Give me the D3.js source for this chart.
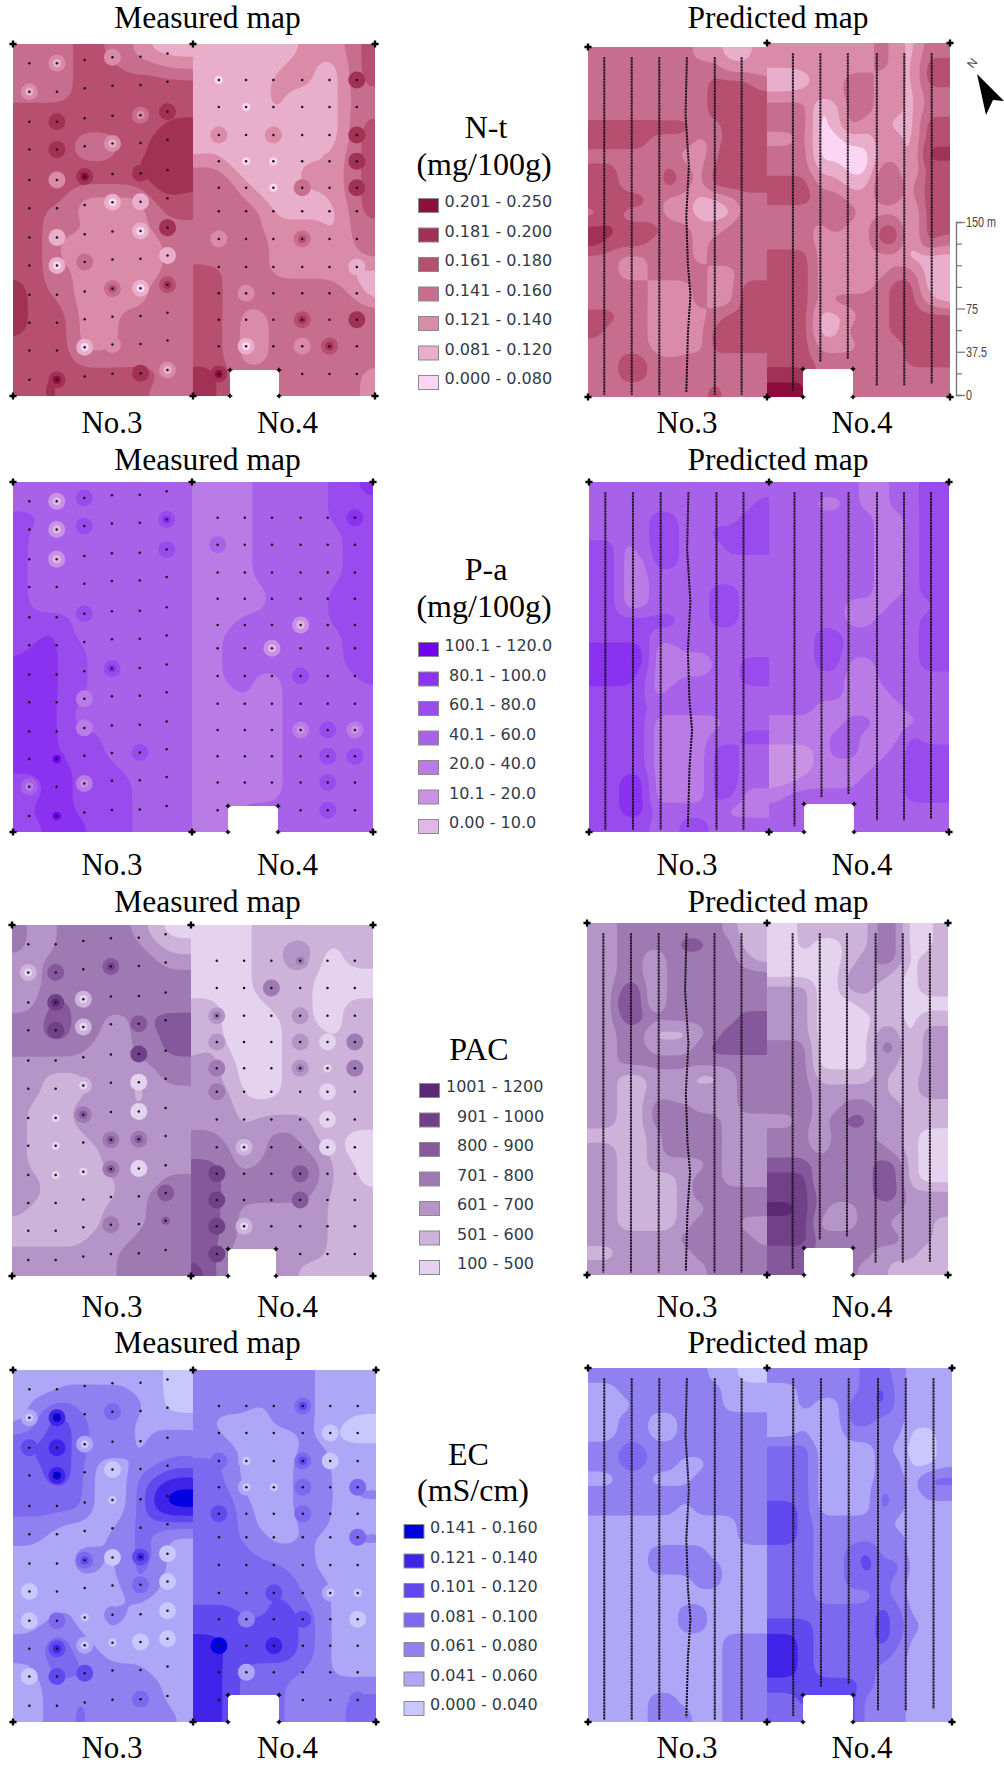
<!DOCTYPE html>
<html>
<head>
<meta charset="utf-8">
<style>
  html, body { margin: 0; padding: 0; background: #fff; }
  svg { display: block; }
</style>
</head>
<body>
<script src="https://cdn.jsdelivr.net/npm/d3@7/dist/d3.min.js"></script>
<script>
// class index read at each grid cell: 0 = lowest legend class, 6 = highest
var ntMeasured3 = ["333344332111","333344433322","333344444444","333344444444","444444444444","444444444455","444433344555","444433344555","444444445565","443444444565","444422222444","443322222344","443332222333","443222222233","443222222233","443322222233","543322222333","544322222333","544422233333","544422233333","444422233333","444433333333","445444444433","445444444333"];
var ntMeasured4 = ["111111122234","111111221134","111112221134","111112111133","111112111133","111111111134","121112111134","111111111234","331111122234","343111122234","343311111234","333331111134","333422222133","323432232133","333332222123","443332222211","443233333321","443333333331","443223343344","443223333333","443223333333","443223333333","553333333332","553333333332"];
var ntPredicted3 = ["333333322112","333333333222","333333334443","333333334444","333333334444","444444433444","444433323444","333333223544","443334324444","443334324444","454432211233","343332211133","554443322343","544433323333","332233323333","332233332233","333322232244","333322232244","443321223444","433322224444","333321224444","334433333333","334433333333","333333334333"];
var ntPredicted4 = ["222222232133","222222232144","001223322144","222223322133","333013322133","333013221144","223001122144","333000022155","333110033144","444221143244","444332233244","333343222144","333232244144","333222244143","444222222111","444222223311","444222234411","444233334421","444112334444","444113334444","444222333434","444333333444","555333333333","666333333333"];

var paMeasured3 = ["333333333333","333333333333","443333333333","433333333333","433333333333","433333333333","433333333333","433333333333","433333333333","444433333333","445433333333","455443333333","555443333333","555443333333","555443333333","555433333333","555433333333","555444333333","555444333333","555544433333","445544443333","445544443333","455544443333","445554443333"];
var paMeasured4 = ["222233333445","222233333444","222233333444","222233333344","222233333344","222233333344","222233333344","222223333444","222223333444","222333333444","223333333344","223333333344","223333333344","223322333334","222322333333","222222333333","222222333333","222222333333","222222333333","222222333333","222222333333","222222333333","222333333333","222333333333"];
var paPredicted3 = ["333333333333","333333233334","333344333344","333344334444","442344333444","442244333333","442233333333","442233334433","442233334433","444444334433","444433333333","555522333333","555522113344","555422333344","444423333333","444433333333","444422222333","444422223344","444422224433","444422224433","445522224433","445522224422","445533333222","444433443333"];
var paPredicted4 = ["333333223344","333223223344","333333322344","333333322344","333333322344","333333322344","333233322344","333333322344","333332223334","333332233344","333443333344","333443333344","333442233344","333332133333","333332223333","333222222333","222223322233","222233222433","111233223444","111222233444","112222333444","233333333444","333333333333","333333333333"];

var pacMeasured3 = ["322333332100","322333333211","223333333322","223333333333","223333333333","224433333333","334433223444","334433223344","333332223344","222222222333","221112221233","221112221222","211122221222","211122222222","211112222222","211111222222","211111222222","221111122233","221111122333","211111222333","111111222333","111112223333","222222233333","222222233333"];
var pacMeasured4 = ["000011111111","000011221011","000011230011","000011110000","000011110000","110001110011","110000110011","110000111011","120000111111","221000111111","221000111111","222000111111","222111111111","222122221111","332223321100","333123332100","443233333110","443333333110","443333332111","443222222111","443222222111","443222222111","442222222111","542222211111"];
var pacPredicted3 = ["223333333211","223333443311","223313333321","223313333333","224413333333","225413333333","224433333344","223311123444","223322234444","223333333333","221122211233","221122122233","221133322233","221133333222","111123333222","221123333222","221122223222","221111233222","221111233333","221111223333","221111233322","222222332332","112222233343","222222223333"];
var pacPredicted4 = ["001111133001","001001133001","000001233011","000002221011","222002211011","222000111000","222000011011","222000022022","333000033022","333000022022","333111121122","333222221122","333223322111","223234422111","333133322100","333233332100","444333344100","555233344100","555333344222","665322333222","555222332221","555333333221","444333322211","444333221111"];

var ecMeasured3 = ["111111111100","111222221100","123322222100","124432221111","334432221222","344432221222","334431112233","334431113455","333331113566","333331113566","222111123333","221111223211","111122123311","111122123211","111111123211","111111112111","111211221111","112211211111","223321111111","223322111111","113332222111","112222222211","112232222211","112232222221"];
var ecMeasured4 = ["222222221111","222222221111","222212221111","211112221100","221111121000","222111122111","332111132111","332111132111","333111132122","333211132111","333211122111","333221121122","333322221111","333333221111","333333322111","333334322111","444334432111","444444432111","554444432111","554444432111","554333322111","554333222222","554333222233","554333222233"];
var ecPredicted3 = ["222222221100","112222222111","111222222111","112211222222","112211222222","223322222222","223322112222","112211122222","222222222222","222222122222","111111111122","111111111122","111122221111","111122222111","111111122111","111111111111","111111221111","111111221111","111111111222","111111111222","111111111222","111111111222","111122111222","111122211222"];
var ecPredicted4 = ["222222332111","112222342111","112113342111","111113322111","112012222001","333111121001","333111122001","333111122133","333111132122","443111132111","443222221111","443222222111","333223422111","333223433111","333223332111","333222232111","333333343111","444333343211","554333343111","554333332111","554333322111","444444322111","334444222111","333444222111"];

// spots around single samples: sample column, sample row, then class of each nested ring
var ntSpots = [[1,0,2,1],[3,0,2],[0,1,2,1],[1,2,5],[4,2,3,2],[5,2,5],[1,3,5],[3,3,2,1],[2,4,5,6],[1,4,2],[4,4,5],[3,5,1,0],[4,5,1],[4,6,1,0],[5,6,5],[1,6,1],[2,7,3],[1,7,1,0],[5,7,1],[3,8,3,4],[4,8,1,0],[5,8,4,5],[2,10,1,0],[3,10,2],[1,11,5,6],[4,11,5],[5,11,2,1],[6,0,1,0],[7,1,1,0],[6,2,2],[8,2,2],[7,3,1,0],[8,3,1,0],[8,4,1,0],[9,4,3],[11,0,5],[11,2,5],[11,3,5],[11,4,5],[10,3,2],[6,6,2],[9,6,3,4],[7,8,2],[7,10,1,0],[9,9,4,5],[11,9,5],[10,10,4,5],[9,10,2],[6,11,5,6],[11,7,1]];
var paSpots = [[1,0,1,0],[2,0,4],[1,1,1,0],[2,1,4],[5,1,4,5],[1,2,1,0],[5,2,4],[2,4,4],[3,6,4,5],[2,7,2],[2,8,2],[4,9,4],[1,9,5,6],[0,10,3,2],[2,10,2,1],[1,11,5,6],[6,1,3],[11,0,5],[9,4,1,0],[8,5,1,0],[9,6,4],[9,8,2,1],[10,8,4],[11,8,2,1],[10,9,4],[11,9,4],[10,10,4],[10,11,4]];
var pacSpots = [[0,1,1,0],[1,1,4],[3,1,4,5],[2,2,1,0],[1,2,5,6],[1,3,5],[2,3,1,0],[4,3,4],[4,4,5],[4,5,0],[2,5,1,0],[4,6,0],[1,6,1,0],[2,6,3,4],[1,7,1,0],[3,7,3,4],[4,7,3,4],[3,8,3,4],[1,8,1,0],[2,8,1,0],[4,8,0],[5,9,4],[3,10,3],[5,10,3,4],[9,0,2,3],[8,1,3],[6,2,2,3],[6,3,2],[9,2,2],[9,3,2],[9,4,2,3],[10,3,0],[10,4,1,0],[11,3,3],[11,4,3],[10,5,0],[10,6,0],[6,4,3],[6,5,3],[6,6,2],[7,7,1,0],[6,8,5],[6,9,5],[6,10,5],[6,11,5],[9,8,4],[9,9,4],[7,10,1,0],[10,7,0]];
var ecSpots = [[0,1,1,0],[1,1,5,6],[1,2,5],[1,3,5,6],[0,2,4],[2,2,1,0],[3,1,3],[3,3,0],[3,4,1,0],[2,6,3,4],[3,6,0],[4,6,4,5],[4,7,3],[3,8,2],[1,8,3],[1,9,4,5],[1,10,4],[2,10,4],[4,11,3],[0,7,0],[5,7,0],[5,6,0],[0,8,0],[5,8,0],[2,8,1,0],[5,9,0],[4,9,0],[3,9,1,0],[2,9,1,0],[0,10,0],[9,0,3,4],[10,1,0],[11,1,0],[10,2,0],[7,2,1,0],[6,2,3],[9,2,3,4],[9,3,3],[9,4,3],[7,3,1,0],[8,3,1,0],[6,4,4],[11,3,3],[11,5,3],[8,7,4],[9,8,4],[8,9,5],[6,9,6],[7,8,2],[7,10,1],[11,8,0],[11,11,3],[10,7,1,0],[11,7,1,0]];

// sample grid and GPS tracks, in grid cells (12 per field across, 24 down)
var sampleX = [1.09, 2.93, 4.78, 6.63, 8.5, 10.3, 13.7, 15.5, 17.3, 19.2, 21, 22.8];
var sampleY3 = [1.32, 3.25, 5.3, 7.2, 9.27, 11.2, 13.2, 15.1, 17.1, 19, 20.9, 22.9];
var sampleTilt3 = [0, 0, -0.23, -0.41, -0.45, -0.68];
var sampleY4 = [2.45, 4.3, 6.2, 8, 9.8, 11.4, 13.3, 15.2, 17, 18.8, 20.6, 22.5];
var trackEnd = [23.85, 23.85, 23.85, 23.85, 23.85, 23.85, 23.6, 21.6, 21.4, 23.2, 23.2, 23.1];
var wobbleY = [0.7, 4.6, 8.2, 11.6, 15, 17, 19.6, 23.7];
var wobbleX = [0, -0.09, 0.13, -0.04, 0.07, 0.24, 0.07, -0.04];

var ntColors = ["#fbd5f3","#e8aeca","#d98ba8","#c76d8d","#b7506f","#a13055","#8e0f3c"];
var paColors = ["#dfb8e8","#c992e4","#b97be6","#a862ea","#9a4ced","#8a33f0","#7000ee"];
var pacColors = ["#e4d2ee","#cdb2da","#b595c8","#9f7ab2","#85599b","#6f4088","#5c2a75"];
var ecColors = ["#c8c8ff","#aea6f6","#9080f0","#7d68f0","#6048ee","#3f24e8","#0000e0"];

var ntLabels = ["0.201 - 0.250","0.181 - 0.200","0.161 - 0.180","0.141 - 0.160","0.121 - 0.140","0.081 - 0.120","0.000 - 0.080"];
var paLabels = ["100.1 - 120.0","80.1 - 100.0","60.1 - 80.0","40.1 - 60.0","20.0 - 40.0","10.1 - 20.0","0.00 - 10.0"];
var pacLabels = ["1001 - 1200","901 - 1000","800 - 900","701 - 800","601 - 700","501 - 600","100 - 500"];
var ecLabels = ["0.141 - 0.160","0.121 - 0.140","0.101 - 0.120","0.081 - 0.100","0.061 - 0.080","0.041 - 0.060","0.000 - 0.040"];

var scaleTicks = [0, 18.75, 37.5, 56.25, 75, 93.75, 112.5, 131.25, 150];
var scaleLabels = {0: "0", 37.5: "37.5", 75: "75", 150: "150 m"};

var w = 1004, h = 1765;
var k = 8; // cells are resampled by this before the contours

var svg = d3.select("body").append("svg").attr("width", w).attr("height", h);

var soft = svg.append("defs").append("filter").attr("id", "soft");
soft.append("feGaussianBlur").attr("stdDeviation", 0.55);

// one contour map for one field
function drawField(g, rows, colors, x0, x1, y0, y1, round) {
    var cw = rows[0].length * k, ch = rows.length * k;
    var values = new Float64Array(cw * ch);
    for (var j = 0; j < ch; j++) {
        for (var i = 0; i < cw; i++) {
            values[j * cw + i] = +rows[Math.floor(j / k)][Math.floor(i / k)];
        }
    }
    d3.blur2({data: values, width: cw, height: ch}, k * round);

    var xs = d3.scaleLinear().domain([0, cw]).range([x0, x1]);
    var ys = d3.scaleLinear().domain([0, ch]).range([y0, y1]);
    var path = d3.geoPath(d3.geoTransform({
        point: function (x, y) { this.stream.point(xs(x), ys(y)); }
    }));

    g.append("rect").attr("x", x0).attr("y", y0)
        .attr("width", x1 - x0).attr("height", y1 - y0)
        .attr("fill", colors[0]);

    var contours = d3.contours().size([cw, ch]).thresholds([0.5, 1.5, 2.5, 3.5, 4.5, 5.5])(values);
    g.selectAll(null)
        .data(contours)
        .enter()
        .append("path")
        .attr("d", path)
        .attr("fill", function (d) { return colors[Math.ceil(d.value)]; });
}

function drawPanel(p, set) {
    var left = p.g.append("g").attr("filter", "url(#soft)");
    var round = p.measured ? 0.58 : 0.4;
    drawField(left, set.rows3, set.colors, p.x0, p.xm, p.top3, p.y1, round);
    drawField(left, set.rows4, set.colors, p.xm, p.x1, p.top4, p.y1, round);

    var x3 = d3.scaleLinear().domain([0, 12]).range([p.x0, p.xm]);
    var x4 = d3.scaleLinear().domain([12, 24]).range([p.xm, p.x1]);
    var y3 = d3.scaleLinear().domain([0, 24]).range([p.top3, p.y1]);
    var y4 = d3.scaleLinear().domain([0, 24]).range([p.top4, p.y1]);
    var sx = function (col) { return col < 12 ? x3(col) : x4(col); };

    if (p.measured) {
        var samples = [];
        sampleX.forEach(function (cx, c) {
            var ysrc = c < 6 ? sampleY3 : sampleY4;
            ysrc.forEach(function (ry, r) {
                samples.push({c: c, r: r, x: sx(cx), y: c < 6 ? y3(ry + sampleTilt3[c]) : y4(ry)});
            });
        });
        var at = function (c, r) { return samples.find(function (s) { return s.c === c && s.r === r; }); };

        set.spots.forEach(function (s) {
            var pos = at(s[0], s[1]);
            var ringSet = s.slice(2);
            left.selectAll(null)
                .data(ringSet)
                .enter()
                .append("circle")
                .attr("cx", pos.x)
                .attr("cy", pos.y)
                .attr("r", function (d, i) { return 8.5 * Math.pow(0.48, i); })
                .attr("fill", function (d) { return set.colors[d]; });
        });

        p.g.selectAll(null)
            .data(samples)
            .enter()
            .append("circle")
            .attr("cx", function (d) { return d.x; })
            .attr("cy", function (d) { return d.y; })
            .attr("r", 1.25)
            .attr("fill", "#1a1018");
    } else {
        var line = d3.line().x(function (d) { return d[0]; }).y(function (d) { return d[1]; });
        sampleX.forEach(function (cx, c) {
            var yy = c < 6 ? y3 : y4;
            var pts;
            if (c === 3) {
                pts = wobbleY.map(function (wy, i) { return [sx(cx + wobbleX[i]), yy(wy)]; });
            } else {
                pts = [[sx(cx), yy(0.7)], [sx(cx), yy(trackEnd[c])]];
            }
            p.g.append("path")
                .attr("d", line(pts))
                .attr("fill", "none")
                .attr("stroke", "#1c1020")
                .attr("stroke-width", 2)
                .attr("stroke-dasharray", "2.2 0.8");
        });
    }

    // the cut-out in field No.4
    p.g.append("rect")
        .attr("x", p.nx0).attr("y", p.ny)
        .attr("width", p.nx1 - p.nx0).attr("height", p.y1 - p.ny + 2)
        .attr("fill", "#fff");

    var cross = d3.symbol().type(d3.symbolCross);
    var big = [[p.x0, p.top3], [p.xm, p.top4], [p.x1, p.top4], [p.x0, p.y1], [p.xm, p.y1], [p.x1, p.y1]];
    var small = [[p.nx0, p.ny], [p.nx1, p.ny], [p.nx0, p.y1], [p.nx1, p.y1]];
    p.g.selectAll(null).data(big).enter().append("path")
        .attr("d", cross.size(28)())
        .attr("transform", function (d) { return "translate(" + d + ")"; })
        .attr("fill", "#000");
    p.g.selectAll(null).data(small).enter().append("path")
        .attr("d", cross.size(12)())
        .attr("transform", function (d) { return "translate(" + d + ")"; })
        .attr("fill", "#000");

    // titles and field names
    var serif = "'Liberation Serif', 'Times New Roman', serif";
    p.g.append("text").text(p.measured ? "Measured map" : "Predicted map")
        .attr("x", p.titleX).attr("y", p.titleY)
        .attr("text-anchor", "middle")
        .attr("font-family", serif)
        .attr("font-size", "31.5px");
    p.g.selectAll(null)
        .data(["No.3", "No.4"])
        .enter()
        .append("text")
        .text(function (d) { return d; })
        .attr("x", function (d, i) { return i ? p.no4X : p.no3X; })
        .attr("y", p.noY)
        .attr("text-anchor", "middle")
        .attr("font-family", serif)
        .attr("font-size", "31px");
}

function drawLegend(l) {
    var g = svg.append("g");
    g.selectAll(null)
        .data(l.title)
        .enter()
        .append("text")
        .text(function (d) { return d[0]; })
        .attr("x", function (d) { return d[1]; })
        .attr("y", function (d) { return d[2]; })
        .attr("text-anchor", "middle")
        .attr("font-family", "'Liberation Serif', 'Times New Roman', serif")
        .attr("font-size", "32px");

    var rowY = d3.scaleLinear().domain([0, 6]).range([l.top, l.top + 177]);
    var items = g.selectAll(null)
        .data(l.labels)
        .enter()
        .append("g");
    items.append("rect")
        .attr("x", l.x + 0.5)
        .attr("y", function (d, i) { return rowY(i) + 0.5; })
        .attr("width", 20)
        .attr("height", 14)
        .attr("fill", function (d, i) { return l.colors[6 - i]; })
        .attr("stroke", "#8a8a8a")
        .attr("stroke-width", 1);
    items.append("text")
        .text(function (d) { return d; })
        .attr("x", function (d, i) { return i === 0 ? l.textX0 : l.textX; })
        .attr("y", function (d, i) { return rowY(i) + 9; })
        .attr("font-family", "'DejaVu Sans', sans-serif")
        .attr("font-size", "16px")
        .attr("fill", "#333a48");
}

var sets = [
    {rows3: ntMeasured3, rows4: ntMeasured4, pred3: ntPredicted3, pred4: ntPredicted4, colors: ntColors, spots: ntSpots},
    {rows3: paMeasured3, rows4: paMeasured4, pred3: paPredicted3, pred4: paPredicted4, colors: paColors, spots: paSpots},
    {rows3: pacMeasured3, rows4: pacMeasured4, pred3: pacPredicted3, pred4: pacPredicted4, colors: pacColors, spots: pacSpots},
    {rows3: ecMeasured3, rows4: ecMeasured4, pred3: ecPredicted3, pred4: ecPredicted4, colors: ecColors, spots: ecSpots}
];

var measuredBoxes = [
    {x0: 13, xm: 193, x1: 375, top3: 44, top4: 44, y1: 396, nx0: 230, nx1: 279, ny: 370, titleY: 28, noY: 433},
    {x0: 13, xm: 192, x1: 373, top3: 482, top4: 482, y1: 832, nx0: 228, nx1: 278, ny: 806, titleY: 470, noY: 875},
    {x0: 12, xm: 191, x1: 373, top3: 925, top4: 925, y1: 1276, nx0: 228, nx1: 276, ny: 1249, titleY: 912, noY: 1317},
    {x0: 13, xm: 193, x1: 376, top3: 1370, top4: 1370, y1: 1722, nx0: 228, nx1: 279, ny: 1695, titleY: 1353, noY: 1758}
];
var predictedBoxes = [
    {x0: 588, xm: 767, x1: 950, top3: 47, top4: 43, y1: 397, nx0: 803, nx1: 853, ny: 369, titleY: 28, noY: 433},
    {x0: 589, xm: 769, x1: 949, top3: 482, top4: 482, y1: 832, nx0: 804, nx1: 854, ny: 804, titleY: 470, noY: 875},
    {x0: 587, xm: 767, x1: 948, top3: 923, top4: 923, y1: 1275, nx0: 804, nx1: 853, ny: 1248, titleY: 912, noY: 1317},
    {x0: 588, xm: 767, x1: 952, top3: 1368, top4: 1368, y1: 1722, nx0: 803, nx1: 853, ny: 1695, titleY: 1353, noY: 1758}
];

sets.forEach(function (s, i) {
    var m = measuredBoxes[i];
    m.g = svg.append("g"); m.measured = true;
    m.titleX = 207.5; m.no3X = 112; m.no4X = 287.5;
    drawPanel(m, s);

    var p = predictedBoxes[i];
    p.g = svg.append("g"); p.measured = false;
    p.titleX = 778; p.no3X = 687; p.no4X = 862;
    drawPanel(p, {rows3: s.pred3, rows4: s.pred4, colors: s.colors});
});

drawLegend({title: [["N-t", 486, 138], ["(mg/100g)", 484, 175]], labels: ntLabels, colors: ntColors, x: 418, top: 198, textX0: 444.5, textX: 444.5});
drawLegend({title: [["P-a", 486, 580], ["(mg/100g)", 484, 617]], labels: paLabels, colors: paColors, x: 418, top: 642, textX0: 444.5, textX: 449});
drawLegend({title: [["PAC", 479, 1060]], labels: pacLabels, colors: pacColors, x: 419, top: 1083, textX0: 446, textX: 457});
drawLegend({title: [["EC", 468.5, 1465], ["(mS/cm)", 473, 1501]], labels: ecLabels, colors: ecColors, x: 403.5, top: 1524, textX0: 430, textX: 430});

// scale bar
var barScale = d3.scaleLinear().domain([0, 150]).range([395, 222]);
var bar = svg.append("g").attr("transform", "translate(956,0)");
bar.call(d3.axisRight(barScale).tickValues(scaleTicks).tickSize(6).tickFormat(function (d) { return scaleLabels[d] || ""; }));
bar.select(".domain").attr("stroke", "#777").attr("stroke-width", 1.4);
bar.selectAll(".tick line")
    .attr("stroke", "#777")
    .attr("stroke-width", 1.2)
    .attr("x2", function (d) { return scaleLabels[d] ? 9 : 6; });
bar.selectAll(".tick text")
    .attr("x", 0)
    .attr("transform", "translate(10,0) scale(0.72,1)")
    .attr("fill", "#444")
    .attr("font-family", "'Liberation Sans', sans-serif")
    .attr("font-size", "15px");

// north arrow
svg.append("path")
    .attr("d", "M977,74L1004,101L993,100L986,115Z")
    .attr("fill", "#000");
svg.append("text").text("N")
    .attr("transform", "translate(972,63) rotate(-52)")
    .attr("text-anchor", "middle")
    .attr("dy", "0.35em")
    .attr("font-family", "'Liberation Sans', sans-serif")
    .attr("font-size", "12px")
    .attr("fill", "#444");
</script>
</body>
</html>
